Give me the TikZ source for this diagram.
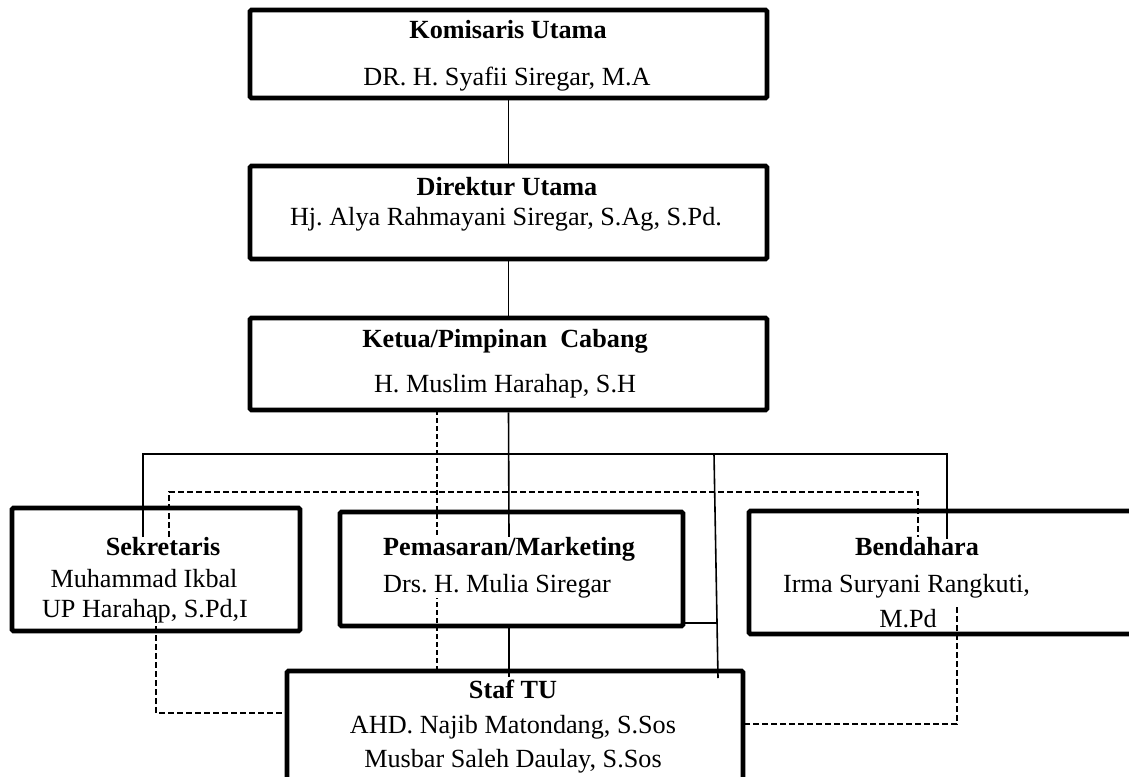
\documentclass[tikz,border=0pt]{standalone}
\usepackage{fontspec}
\setmainfont{Liberation Serif}
\frenchspacing
\begin{document}
\begin{tikzpicture}[x=1pt,y=-1pt,
  box/.style={draw=black,line width=4.8pt,rounded corners=1.5pt,rectangle,inner sep=0pt},
  txt/.style={inner sep=0pt,font=\frenchspacing\fontsize{26.2}{37}\selectfont},
  conn/.style={line width=1.6pt},
  dsh/.style={line width=1.7pt,dash pattern=on 6pt off 3pt},
  dshv/.style={line width=1.4pt,dash pattern=on 5pt off 3pt}]
\useasboundingbox (0,0) rectangle (1129,776);
\clip (0,0) rectangle (1129,776);
% boxes
\node[box,minimum width=517pt,minimum height=88pt] (kom) at (508.5,54) {};
\node[box,minimum width=517pt,minimum height=93pt] (dir) at (508.5,212.5) {};
\node[box,minimum width=517pt,minimum height=92pt] (ket) at (508.5,364) {};
\node[box,minimum width=288pt,minimum height=123pt] (sek) at (156,569.5) {};
\node[box,minimum width=343pt,minimum height=114pt] (pem) at (511.5,569) {};
\node[box,minimum width=391pt,minimum height=123pt] (ben) at (944.5,572.5) {};
\node[box,minimum width=456pt,minimum height=119pt] (staf) at (515,730.5) {};
% texts
\node[txt,anchor=base] (komT1) at (508,38) {\textbf{Komisaris Utama}};
\node[txt,anchor=base] (komT2) at (507,85) {DR. H. Syafii Siregar, M.A};
\node[txt,anchor=base] (dirT1) at (507,195) {\textbf{Direktur Utama}};
\node[txt,anchor=base] (dirT2) at (506,225) {Hj. Alya Rahmayani Siregar, S.Ag, S.Pd.};
\node[txt,anchor=base] (ketT1) at (505,347) {\textbf{Ketua/Pimpinan\ \ Cabang}};
\node[txt,anchor=base] (ketT2) at (505,392) {H. Muslim Harahap, S.H};
\node[txt,anchor=base] (sekT1) at (163,555) {\textbf{Sekretaris}};
\node[txt,anchor=base] (sekT2) at (144,587) {Muhammad Ikbal};
\node[txt,anchor=base] (sekT3) at (145,617) {UP Harahap, S.Pd,I};
\node[txt,anchor=base] (benT1) at (917,555) {\textbf{Bendahara}};
\node[txt,anchor=base west] (benT2) at (783,592) {Irma Suryani Rangkuti,};
\node[txt,anchor=base] (benT3) at (908,627) {M.Pd};
\node[txt,anchor=base] (stafT1) at (513,698) {\textbf{Staf TU}};
\node[txt,anchor=base] (stafT2) at (513,733) {AHD. Najib Matondang, S.Sos};
\node[txt,anchor=base] (stafT3) at (513,767) {Musbar Saleh Daulay, S.Sos};
% coordinates
\coordinate (sekIn) at (143,537);
\coordinate (busR) at (947,454);
\coordinate (benIn) at (947,539);
\coordinate (slTop) at (714,454);
\coordinate (slBot) at (718,678);
\coordinate (pemR) at (683,623);
\coordinate (slMid) at (717.8,623);
\coordinate (pemB) at (509,626);
\coordinate (stafIn) at (509,677);
\coordinate (pemIn) at (509,538);
\coordinate (ketD) at (437,410);
\coordinate (stafD) at (437,669);
\coordinate (sekD) at (169,537);
\coordinate (dTopR) at (918,492);
\coordinate (benD) at (918,537);
\coordinate (sekB) at (156,617);
\coordinate (stafL) at (287,713);
\coordinate (benB) at (957,607);
\coordinate (stafR) at (743,724);
% solid connectors
\draw[conn] (kom.south) -- (dir.north);
\draw[conn] (dir.south) -- (ket.north);
\draw[conn] (ket.south) -- (pemIn);
\draw[conn] (sekIn) |- (busR) -- (benIn);
\draw[conn] (slTop) -- (slBot);
\draw[conn] (pemR) -- (slMid);
\draw[conn] (pemB) -- (stafIn);
% dashed connectors
\draw[dshv] (ketD) -- (stafD);
\draw[dsh] (sekD) |- (dTopR) -- (benD);
\draw[dsh] (sekB) |- (stafL);
\draw[dsh] (benB) |- (stafR);
% pemasaran text (white background hides dashed line)
\node[txt,anchor=north west,align=left,fill=white] (pemT) at (383,537)
  {\textbf{Pemasaran/Marketing}\\Drs. H. Mulia Siregar};
\end{tikzpicture}
\end{document}
